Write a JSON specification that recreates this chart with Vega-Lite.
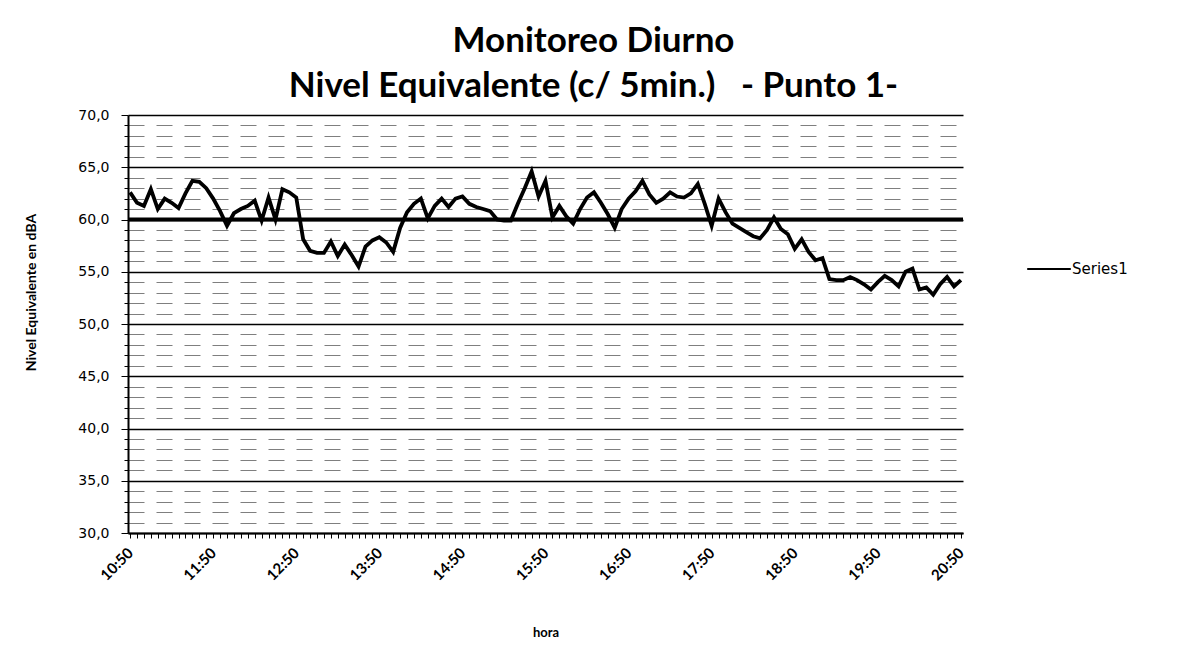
{
  "$schema": "https://vega.github.io/schema/vega-lite/v6.json",
  "width": 835,
  "height": 418,
  "autosize": {"type": "none"},
  "padding": {"left": 128, "top": 115, "right": 218, "bottom": 131},
  "background": "white",
  "title": {
    "text": ["Monitoreo Diurno", "Nivel Equivalente (c/ 5min.)\u00a0\u00a0\u00a0- Punto 1-"],
    "font": "Lato",
    "fontSize": 35,
    "fontWeight": "bold",
    "color": "black",
    "anchor": "middle",
    "dx": 48,
    "offset": 4,
    "lineHeight": 45
  },
  "datasets": {
    "serie": [
      {"hora": "10:50", "nivel": 62.6}, {"hora": "10:55", "nivel": 61.6}, {"hora": "11:00", "nivel": 61.3}, {"hora": "11:05", "nivel": 62.9},
      {"hora": "11:10", "nivel": 61.0}, {"hora": "11:15", "nivel": 62.0}, {"hora": "11:20", "nivel": 61.6}, {"hora": "11:25", "nivel": 61.1},
      {"hora": "11:30", "nivel": 62.5}, {"hora": "11:35", "nivel": 63.7}, {"hora": "11:40", "nivel": 63.6}, {"hora": "11:45", "nivel": 63.0},
      {"hora": "11:50", "nivel": 62.0}, {"hora": "11:55", "nivel": 60.8}, {"hora": "12:00", "nivel": 59.4}, {"hora": "12:05", "nivel": 60.6},
      {"hora": "12:10", "nivel": 61.0}, {"hora": "12:15", "nivel": 61.3}, {"hora": "12:20", "nivel": 61.8}, {"hora": "12:25", "nivel": 59.9},
      {"hora": "12:30", "nivel": 62.1}, {"hora": "12:35", "nivel": 60.0}, {"hora": "12:40", "nivel": 62.9}, {"hora": "12:45", "nivel": 62.6},
      {"hora": "12:50", "nivel": 62.1}, {"hora": "12:55", "nivel": 58.1}, {"hora": "13:00", "nivel": 57.0}, {"hora": "13:05", "nivel": 56.8},
      {"hora": "13:10", "nivel": 56.8}, {"hora": "13:15", "nivel": 57.9}, {"hora": "13:20", "nivel": 56.5}, {"hora": "13:25", "nivel": 57.6},
      {"hora": "13:30", "nivel": 56.6}, {"hora": "13:35", "nivel": 55.5}, {"hora": "13:40", "nivel": 57.4}, {"hora": "13:45", "nivel": 58.0},
      {"hora": "13:50", "nivel": 58.3}, {"hora": "13:55", "nivel": 57.8}, {"hora": "14:00", "nivel": 56.9}, {"hora": "14:05", "nivel": 59.2},
      {"hora": "14:10", "nivel": 60.7}, {"hora": "14:15", "nivel": 61.5}, {"hora": "14:20", "nivel": 62.0}, {"hora": "14:25", "nivel": 60.1},
      {"hora": "14:30", "nivel": 61.3}, {"hora": "14:35", "nivel": 62.0}, {"hora": "14:40", "nivel": 61.2}, {"hora": "14:45", "nivel": 62.0},
      {"hora": "14:50", "nivel": 62.2}, {"hora": "14:55", "nivel": 61.5}, {"hora": "15:00", "nivel": 61.2}, {"hora": "15:05", "nivel": 61.0},
      {"hora": "15:10", "nivel": 60.8}, {"hora": "15:15", "nivel": 60.0}, {"hora": "15:20", "nivel": 59.9}, {"hora": "15:25", "nivel": 59.9},
      {"hora": "15:30", "nivel": 61.5}, {"hora": "15:35", "nivel": 63.0}, {"hora": "15:40", "nivel": 64.6}, {"hora": "15:45", "nivel": 62.2},
      {"hora": "15:50", "nivel": 63.7}, {"hora": "15:55", "nivel": 60.2}, {"hora": "16:00", "nivel": 61.3}, {"hora": "16:05", "nivel": 60.3},
      {"hora": "16:10", "nivel": 59.6}, {"hora": "16:15", "nivel": 61.0}, {"hora": "16:20", "nivel": 62.1}, {"hora": "16:25", "nivel": 62.6},
      {"hora": "16:30", "nivel": 61.6}, {"hora": "16:35", "nivel": 60.5}, {"hora": "16:40", "nivel": 59.2}, {"hora": "16:45", "nivel": 61.0},
      {"hora": "16:50", "nivel": 62.0}, {"hora": "16:55", "nivel": 62.7}, {"hora": "17:00", "nivel": 63.7}, {"hora": "17:05", "nivel": 62.4},
      {"hora": "17:10", "nivel": 61.6}, {"hora": "17:15", "nivel": 62.0}, {"hora": "17:20", "nivel": 62.6}, {"hora": "17:25", "nivel": 62.2},
      {"hora": "17:30", "nivel": 62.1}, {"hora": "17:35", "nivel": 62.5}, {"hora": "17:40", "nivel": 63.4}, {"hora": "17:45", "nivel": 61.5},
      {"hora": "17:50", "nivel": 59.4}, {"hora": "17:55", "nivel": 62.0}, {"hora": "18:00", "nivel": 60.7}, {"hora": "18:05", "nivel": 59.6},
      {"hora": "18:10", "nivel": 59.2}, {"hora": "18:15", "nivel": 58.8}, {"hora": "18:20", "nivel": 58.4}, {"hora": "18:25", "nivel": 58.2},
      {"hora": "18:30", "nivel": 59.0}, {"hora": "18:35", "nivel": 60.2}, {"hora": "18:40", "nivel": 59.1}, {"hora": "18:45", "nivel": 58.6},
      {"hora": "18:50", "nivel": 57.2}, {"hora": "18:55", "nivel": 58.1}, {"hora": "19:00", "nivel": 56.9}, {"hora": "19:05", "nivel": 56.1},
      {"hora": "19:10", "nivel": 56.3}, {"hora": "19:15", "nivel": 54.3}, {"hora": "19:20", "nivel": 54.2}, {"hora": "19:25", "nivel": 54.2},
      {"hora": "19:30", "nivel": 54.5}, {"hora": "19:35", "nivel": 54.2}, {"hora": "19:40", "nivel": 53.8}, {"hora": "19:45", "nivel": 53.3},
      {"hora": "19:50", "nivel": 54.0}, {"hora": "19:55", "nivel": 54.6}, {"hora": "20:00", "nivel": 54.2}, {"hora": "20:05", "nivel": 53.6},
      {"hora": "20:10", "nivel": 55.0}, {"hora": "20:15", "nivel": 55.3}, {"hora": "20:20", "nivel": 53.3}, {"hora": "20:25", "nivel": 53.5},
      {"hora": "20:30", "nivel": 52.8}, {"hora": "20:35", "nivel": 53.8}, {"hora": "20:40", "nivel": 54.5}, {"hora": "20:45", "nivel": 53.6},
      {"hora": "20:50", "nivel": 54.2}
    ],
    "limite": [{"nivel": 60}]
  },
  "encoding": {
    "y": {
      "field": "nivel",
      "type": "quantitative",
      "scale": {"domain": [30, 70], "nice": false, "zero": false},
      "axis": {
        "values": [30,31,32,33,34,35,36,37,38,39,40,41,42,43,44,45,46,47,48,49,50,51,52,53,54,55,56,57,58,59,60,61,62,63,64,65,66,67,68,69,70],
        "title": "Nivel Equivalente  en dBA",
        "titleFont": "Lato",
        "titleFontWeight": "bold",
        "titleFontSize": 14,
        "titleColor": "black",
        "titleX": -90,
        "titleY": 177,
        "labelExpr": "datum.value % 5 == 0 ? replace(format(datum.value, '.1f'), '.', ',') : ''",
        "labelFont": "DejaVu Sans",
        "labelFontSize": 14,
        "labelColor": "black",
        "labelPadding": 12,
        "labelOverlap": false,
        "tickColor": "black",
        "tickSize": {"condition": {"test": "datum.value % 5 == 0", "value": 7}, "value": 4},
        "domainColor": "black",
        "domainWidth": 2,
        "grid": true,
        "gridColor": "black",
        "gridWidth": {"condition": {"test": "datum.value % 5 == 0", "value": 1.5}, "value": 1},
        "gridOpacity": {"condition": {"test": "datum.value % 5 == 0", "value": 1}, "value": 0.5},
        "gridDash": {"condition": {"test": "datum.value % 5 == 0", "value": []}, "value": [16, 12]}
      }
    }
  },
  "layer": [
    {
      "data": {"name": "serie"},
      "mark": {"type": "line", "color": "black", "strokeWidth": 3.8},
      "encoding": {
        "x": {
          "field": "hora",
          "type": "ordinal",
          "sort": null,
          "scale": {"type": "point", "padding": 0.3},
          "axis": {
            "title": "hora",
            "titleFont": "Lato",
            "titleFontWeight": "bold",
            "titleFontSize": 13,
            "titleColor": "black",
            "titleBaseline": "middle",
            "titleY": 99,
            "labelExpr": "slice(datum.value, -2) == '50' ? datum.value : ''",
            "labelAngle": -45,
            "labelAlign": "right",
            "labelBaseline": "middle",
            "labelFont": "Lato",
            "labelFontWeight": "bold",
            "labelFontSize": 15,
            "labelColor": "black",
            "labelPadding": 12,
            "labelOverlap": false,
            "tickColor": "black",
            "tickSize": 5,
            "domainColor": "black",
            "domainWidth": 2,
            "grid": false
          }
        },
        "color": {
          "datum": "Series1",
          "type": "nominal",
          "scale": {"range": ["black"]},
          "legend": {
            "title": null,
            "orient": "none",
            "legendX": 898,
            "legendY": 131,
            "symbolType": "stroke",
            "symbolSize": 1900,
            "symbolStrokeWidth": 2,
            "symbolStrokeColor": "black",
            "labelFont": "DejaVu Sans",
            "labelFontSize": 15,
            "labelColor": "black",
            "labelOffset": 0
          }
        }
      }
    },
    {
      "data": {"name": "limite"},
      "mark": {"type": "rule", "color": "black", "strokeWidth": 4},
      "encoding": {}
    }
  ],
  "config": {"view": {"stroke": null}}
}
